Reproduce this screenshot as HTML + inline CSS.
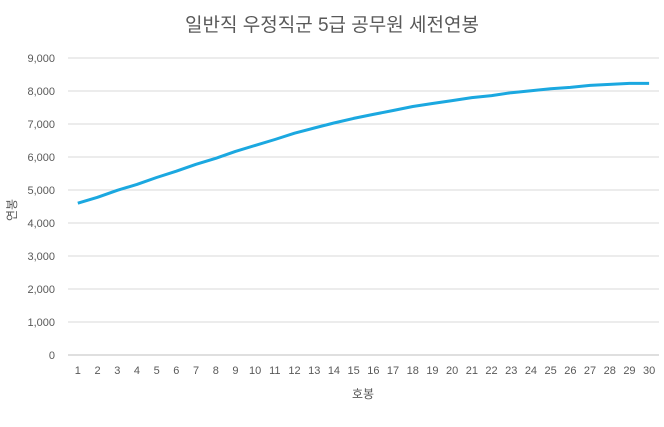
<!DOCTYPE html>
<html><head><meta charset="utf-8"><style>
body{margin:0;background:#fff;font-family:"Liberation Sans","Noto Sans CJK KR",sans-serif}
</style></head><body>
<svg width="664" height="422" viewBox="0 0 664 422">
<rect width="664" height="422" fill="#fff"/>
<text x="332" y="31" text-anchor="middle" font-size="19" fill="#595959" font-family="'Liberation Sans','Noto Sans CJK KR',sans-serif">일반직 우정직군 5급 공무원 세전연봉</text>
<g id="grid"></g><g id="yt"></g><g id="xt"></g>
<path id="line" fill="none" stroke="#1BA8E0" stroke-width="3" stroke-linejoin="round"/>
<text transform="translate(16,210) rotate(-90)" text-anchor="middle" font-size="12" fill="#595959" font-family="'Liberation Sans','Noto Sans CJK KR',sans-serif">연봉</text>
<text x="363" y="398" text-anchor="middle" font-size="12" fill="#595959" font-family="'Liberation Sans','Noto Sans CJK KR',sans-serif">호봉</text>
</svg>
<script>
const categories=[1,2,3,4,5,6,7,8,9,10,11,12,13,14,15,16,17,18,19,20,21,22,23,24,25,26,27,28,29,30];
const salaries=[4600,4780,4990,5170,5380,5570,5780,5960,6170,6350,6530,6720,6880,7030,7170,7290,7410,7530,7620,7710,7800,7860,7950,8010,8070,8110,8170,8200,8230,8230];
const yTicks=[0,1000,2000,3000,4000,5000,6000,7000,8000,9000];
const NS="http://www.w3.org/2000/svg";
const L=68,R=659,y0=355,y9=58;
function ys(v){return y0-(v/9000)*(y0-y9);}
function xs(i){const step=(R-L)/categories.length;return L+step*(i+0.5);}
const grid=document.getElementById('grid'),yt=document.getElementById('yt'),xt=document.getElementById('xt');
yTicks.forEach(t=>{
const l=document.createElementNS(NS,'line');
l.setAttribute('x1',L);l.setAttribute('x2',R);l.setAttribute('y1',ys(t));l.setAttribute('y2',ys(t));
l.setAttribute('stroke',t===0?'#bfbfbf':'#d9d9d9');l.setAttribute('stroke-width','1');


grid.appendChild(l);
const tx=document.createElementNS(NS,'text');
tx.setAttribute('x',55);tx.setAttribute('y',ys(t)+4);tx.setAttribute('text-anchor','end');
tx.setAttribute('font-size','11');tx.setAttribute('fill','#595959');
tx.textContent=t.toLocaleString('en-US');


yt.appendChild(tx);
});
categories.forEach((c,i)=>{
const tx=document.createElementNS(NS,'text');
tx.setAttribute('x',xs(i));tx.setAttribute('y',374);tx.setAttribute('text-anchor','middle');
tx.setAttribute('font-size','11');tx.setAttribute('fill','#595959');
tx.textContent=c;


xt.appendChild(tx);
});
document.getElementById('line').setAttribute('d',salaries.map((v,i)=>(i?'L':'M')+xs(i).toFixed(1)+','+ys(v).toFixed(1)).join(' '));
</script>
</body></html>
